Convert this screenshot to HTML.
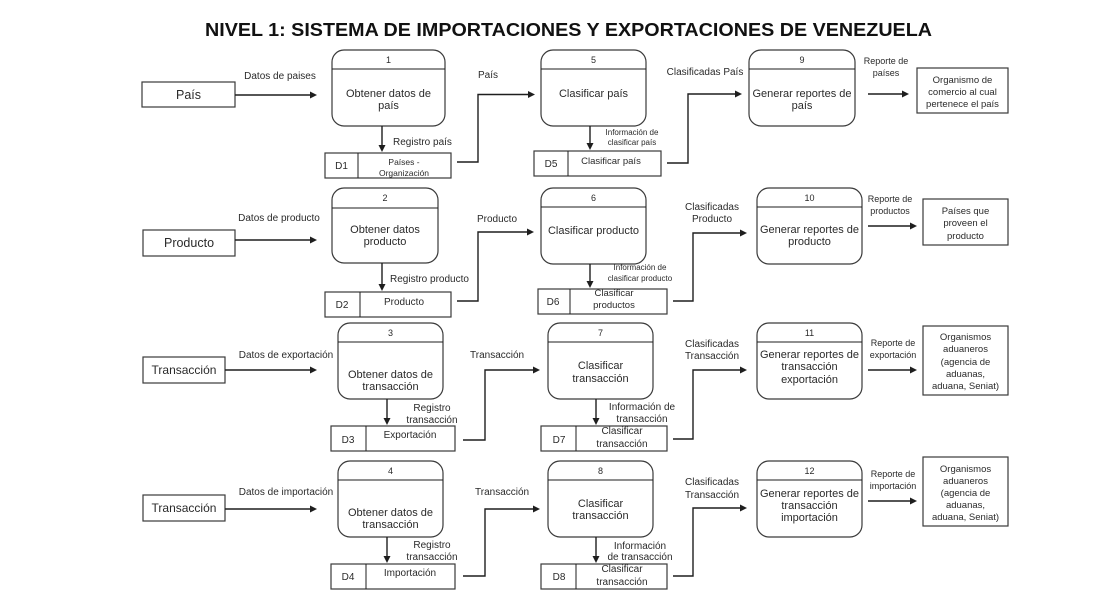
<!DOCTYPE html>
<html><head><meta charset="utf-8"><style>
html,body{margin:0;padding:0;background:#fff;}
svg{display:block;}
text{font-family:"Liberation Sans",Arial,sans-serif;fill:#2a2a2a;}
.t{text-anchor:middle;}
.box{fill:#fff;stroke:#3a3a3a;stroke-width:1.2;}
.ln{fill:none;stroke:#1e1e1e;stroke-width:1.4;}
.ah{fill:#1e1e1e;}
</style></head><body>
<svg width="1115" height="605" viewBox="0 0 1115 605" xmlns="http://www.w3.org/2000/svg">
<text x="205" y="36" font-size="18" font-weight="bold" textLength="727" lengthAdjust="spacingAndGlyphs" style="fill:#111">NIVEL 1: SISTEMA DE IMPORTACIONES Y EXPORTACIONES DE VENEZUELA</text>

<!-- ROW 1 -->
<rect class="box" x="142" y="82" width="93" height="25"/>
<text class="t" x="188.5" y="99" font-size="12.5">País</text>
<line class="ln" x1="235" y1="95" x2="311" y2="95"/><polygon class="ah" points="317,95 310,91.5 310,98.5"/>
<text class="t" x="280" y="79" font-size="10">Datos de paises</text>

<rect class="box" x="332" y="50" width="113" height="76" rx="12"/>
<line class="ln" x1="332" y1="69" x2="445" y2="69" style="stroke-width:1"/>
<text class="t" x="388.5" y="63" font-size="9">1</text>
<text class="t" x="388.5" y="97" font-size="11">Obtener datos de</text>
<text class="t" x="388.5" y="109" font-size="11">país</text>
<line class="ln" x1="382" y1="126" x2="382" y2="146"/><polygon class="ah" points="382,152 378.5,145 385.5,145"/>
<text x="393" y="145" font-size="10">Registro país</text>

<rect class="box" x="325" y="153" width="126" height="25"/>
<line class="ln" x1="358" y1="153" x2="358" y2="178" style="stroke-width:1"/>
<text class="t" x="341.5" y="169" font-size="10">D1</text>
<text class="t" x="404" y="165" font-size="8.5">Países -</text>
<text class="t" x="404" y="176" font-size="8.5">Organización</text>
<polyline class="ln" points="457,162 478,162 478,94.5 528,94.5"/><polygon class="ah" points="535,94.5 528,91 528,98"/>
<text x="478" y="78" font-size="10">País</text>

<rect class="box" x="541" y="50" width="105" height="76" rx="12"/>
<line class="ln" x1="541" y1="69" x2="646" y2="69" style="stroke-width:1"/>
<text class="t" x="593.5" y="63" font-size="9">5</text>
<text class="t" x="593.5" y="97" font-size="11">Clasificar país</text>
<line class="ln" x1="590" y1="126" x2="590" y2="144"/><polygon class="ah" points="590,150 586.5,143 593.5,143"/>
<text class="t" x="632" y="135" font-size="8">Información de</text>
<text class="t" x="632" y="145" font-size="8">clasificar país</text>

<rect class="box" x="534" y="151" width="127" height="25"/>
<line class="ln" x1="568" y1="151" x2="568" y2="176" style="stroke-width:1"/>
<text class="t" x="551" y="167" font-size="10">D5</text>
<text class="t" x="611" y="164" font-size="9.5">Clasificar país</text>
<polyline class="ln" points="667,163 688,163 688,94 735,94"/><polygon class="ah" points="742,94 735,90.5 735,97.5"/>
<text class="t" x="705" y="75" font-size="10">Clasificadas País</text>

<rect class="box" x="749" y="50" width="106" height="76" rx="12"/>
<line class="ln" x1="749" y1="69" x2="855" y2="69" style="stroke-width:1"/>
<text class="t" x="802" y="63" font-size="9">9</text>
<text class="t" x="802" y="97" font-size="11">Generar reportes de</text>
<text class="t" x="802" y="109" font-size="11">país</text>
<line class="ln" x1="868" y1="94" x2="903" y2="94"/><polygon class="ah" points="909,94 902,90.5 902,97.5"/>
<text class="t" x="886" y="64" font-size="9">Reporte de</text>
<text class="t" x="886" y="76" font-size="9">países</text>

<rect class="box" x="917" y="68" width="91" height="45"/>
<text class="t" x="962.5" y="83" font-size="9.5">Organismo de</text>
<text class="t" x="962.5" y="95" font-size="9.5">comercio al cual</text>
<text class="t" x="962.5" y="107" font-size="9.5">pertenece el país</text>

<!-- ROW 2 -->
<rect class="box" x="143" y="230" width="92" height="26"/>
<text class="t" x="189" y="247" font-size="12.5">Producto</text>
<line class="ln" x1="235" y1="240" x2="311" y2="240"/><polygon class="ah" points="317,240 310,236.5 310,243.5"/>
<text class="t" x="279" y="221" font-size="10">Datos de producto</text>

<rect class="box" x="332" y="188" width="106" height="75" rx="12"/>
<line class="ln" x1="332" y1="208" x2="438" y2="208" style="stroke-width:1"/>
<text class="t" x="385" y="201" font-size="9">2</text>
<text class="t" x="385" y="233" font-size="11">Obtener datos</text>
<text class="t" x="385" y="245" font-size="11">producto</text>
<line class="ln" x1="382" y1="263" x2="382" y2="285"/><polygon class="ah" points="382,291 378.5,284 385.5,284"/>
<text x="390" y="282" font-size="10">Registro producto</text>

<rect class="box" x="325" y="292" width="126" height="25"/>
<line class="ln" x1="360" y1="292" x2="360" y2="317" style="stroke-width:1"/>
<text class="t" x="342" y="308" font-size="10">D2</text>
<text class="t" x="404" y="305" font-size="10">Producto</text>
<polyline class="ln" points="457,301 478,301 478,232 527,232"/><polygon class="ah" points="534,232 527,228.5 527,235.5"/>
<text x="477" y="222" font-size="10">Producto</text>

<rect class="box" x="541" y="188" width="105" height="76" rx="12"/>
<line class="ln" x1="541" y1="207" x2="646" y2="207" style="stroke-width:1"/>
<text class="t" x="593.5" y="201" font-size="9">6</text>
<text class="t" x="593.5" y="234" font-size="11">Clasificar producto</text>
<line class="ln" x1="590" y1="264" x2="590" y2="282"/><polygon class="ah" points="590,288 586.5,281 593.5,281"/>
<text class="t" x="640" y="270" font-size="8">Información de</text>
<text class="t" x="640" y="281" font-size="8">clasificar producto</text>

<rect class="box" x="538" y="289" width="129" height="25"/>
<line class="ln" x1="570" y1="289" x2="570" y2="314" style="stroke-width:1"/>
<text class="t" x="553" y="305" font-size="10">D6</text>
<text class="t" x="614" y="296" font-size="9.5">Clasificar</text>
<text class="t" x="614" y="308" font-size="9.5">productos</text>
<polyline class="ln" points="673,301 693,301 693,233 740,233"/><polygon class="ah" points="747,233 740,229.5 740,236.5"/>
<text class="t" x="712" y="210" font-size="10">Clasificadas</text>
<text class="t" x="712" y="222" font-size="10">Producto</text>

<rect class="box" x="757" y="188" width="105" height="76" rx="12"/>
<line class="ln" x1="757" y1="207" x2="862" y2="207" style="stroke-width:1"/>
<text class="t" x="809.5" y="201" font-size="9">10</text>
<text class="t" x="809.5" y="233" font-size="11">Generar reportes de</text>
<text class="t" x="809.5" y="245" font-size="11">producto</text>
<line class="ln" x1="868" y1="226" x2="911" y2="226"/><polygon class="ah" points="917,226 910,222.5 910,229.5"/>
<text class="t" x="890" y="202" font-size="9">Reporte de</text>
<text class="t" x="890" y="214" font-size="9">productos</text>

<rect class="box" x="923" y="199" width="85" height="46"/>
<text class="t" x="965.5" y="214" font-size="9.5">Países que</text>
<text class="t" x="965.5" y="226" font-size="9.5">proveen el</text>
<text class="t" x="965.5" y="239" font-size="9.5">producto</text>

<!-- ROW 3 -->
<rect class="box" x="143" y="357" width="82" height="26"/>
<text class="t" x="184" y="374" font-size="12">Transacción</text>
<line class="ln" x1="225" y1="370" x2="311" y2="370"/><polygon class="ah" points="317,370 310,366.5 310,373.5"/>
<text class="t" x="286" y="358" font-size="10">Datos de exportación</text>

<rect class="box" x="338" y="323" width="105" height="76" rx="12"/>
<line class="ln" x1="338" y1="342" x2="443" y2="342" style="stroke-width:1"/>
<text class="t" x="390.5" y="336" font-size="9">3</text>
<text class="t" x="390.5" y="378" font-size="11">Obtener datos de</text>
<text class="t" x="390.5" y="390" font-size="11">transacción</text>
<line class="ln" x1="387" y1="399" x2="387" y2="419"/><polygon class="ah" points="387,425 383.5,418 390.5,418"/>
<text class="t" x="432" y="411" font-size="10">Registro</text>
<text class="t" x="432" y="423" font-size="10">transacción</text>

<rect class="box" x="331" y="426" width="124" height="25"/>
<line class="ln" x1="366" y1="426" x2="366" y2="451" style="stroke-width:1"/>
<text class="t" x="348" y="443" font-size="10">D3</text>
<text class="t" x="410" y="438" font-size="10">Exportación</text>
<polyline class="ln" points="463,440 485,440 485,370 533,370"/><polygon class="ah" points="540,370 533,366.5 533,373.5"/>
<text x="470" y="358" font-size="10">Transacción</text>

<rect class="box" x="548" y="323" width="105" height="76" rx="12"/>
<line class="ln" x1="548" y1="342" x2="653" y2="342" style="stroke-width:1"/>
<text class="t" x="600.5" y="336" font-size="9">7</text>
<text class="t" x="600.5" y="369" font-size="11">Clasificar</text>
<text class="t" x="600.5" y="382" font-size="11">transacción</text>
<line class="ln" x1="596" y1="399" x2="596" y2="419"/><polygon class="ah" points="596,425 592.5,418 599.5,418"/>
<text class="t" x="642" y="410" font-size="10">Información de</text>
<text class="t" x="642" y="422" font-size="10">transacción</text>

<rect class="box" x="541" y="426" width="126" height="25"/>
<line class="ln" x1="576" y1="426" x2="576" y2="451" style="stroke-width:1"/>
<text class="t" x="559" y="443" font-size="10">D7</text>
<text class="t" x="622" y="434" font-size="10">Clasificar</text>
<text class="t" x="622" y="447" font-size="10">transacción</text>
<polyline class="ln" points="673,439 693,439 693,370 740,370"/><polygon class="ah" points="747,370 740,366.5 740,373.5"/>
<text class="t" x="712" y="347" font-size="10">Clasificadas</text>
<text class="t" x="712" y="359" font-size="10">Transacción</text>

<rect class="box" x="757" y="323" width="105" height="76" rx="12"/>
<line class="ln" x1="757" y1="342" x2="862" y2="342" style="stroke-width:1"/>
<text class="t" x="809.5" y="336" font-size="9">11</text>
<text class="t" x="809.5" y="358" font-size="11">Generar reportes de</text>
<text class="t" x="809.5" y="370" font-size="11">transacción</text>
<text class="t" x="809.5" y="383" font-size="11">exportación</text>
<line class="ln" x1="868" y1="370" x2="911" y2="370"/><polygon class="ah" points="917,370 910,366.5 910,373.5"/>
<text class="t" x="893" y="346" font-size="9">Reporte de</text>
<text class="t" x="893" y="358" font-size="9">exportación</text>

<rect class="box" x="923" y="326" width="85" height="69"/>
<text class="t" x="965.5" y="340" font-size="9.5">Organismos</text>
<text class="t" x="965.5" y="352" font-size="9.5">aduaneros</text>
<text class="t" x="965.5" y="365" font-size="9.5">(agencia de</text>
<text class="t" x="965.5" y="377" font-size="9.5">aduanas,</text>
<text class="t" x="965.5" y="389" font-size="9.5">aduana, Seniat)</text>

<!-- ROW 4 -->
<rect class="box" x="143" y="495" width="82" height="26"/>
<text class="t" x="184" y="512" font-size="12">Transacción</text>
<line class="ln" x1="225" y1="509" x2="311" y2="509"/><polygon class="ah" points="317,509 310,505.5 310,512.5"/>
<text class="t" x="286" y="495" font-size="10">Datos de importación</text>

<rect class="box" x="338" y="461" width="105" height="76" rx="12"/>
<line class="ln" x1="338" y1="480" x2="443" y2="480" style="stroke-width:1"/>
<text class="t" x="390.5" y="474" font-size="9">4</text>
<text class="t" x="390.5" y="516" font-size="11">Obtener datos de</text>
<text class="t" x="390.5" y="528" font-size="11">transacción</text>
<line class="ln" x1="387" y1="537" x2="387" y2="557"/><polygon class="ah" points="387,563 383.5,556 390.5,556"/>
<text class="t" x="432" y="548" font-size="10">Registro</text>
<text class="t" x="432" y="560" font-size="10">transacción</text>

<rect class="box" x="331" y="564" width="124" height="25"/>
<line class="ln" x1="366" y1="564" x2="366" y2="589" style="stroke-width:1"/>
<text class="t" x="348" y="580" font-size="10">D4</text>
<text class="t" x="410" y="576" font-size="10">Importación</text>
<polyline class="ln" points="463,576 485,576 485,509 533,509"/><polygon class="ah" points="540,509 533,505.5 533,512.5"/>
<text x="475" y="495" font-size="10">Transacción</text>

<rect class="box" x="548" y="461" width="105" height="76" rx="12"/>
<line class="ln" x1="548" y1="480" x2="653" y2="480" style="stroke-width:1"/>
<text class="t" x="600.5" y="474" font-size="9">8</text>
<text class="t" x="600.5" y="507" font-size="11">Clasificar</text>
<text class="t" x="600.5" y="519" font-size="11">transacción</text>
<line class="ln" x1="596" y1="537" x2="596" y2="557"/><polygon class="ah" points="596,563 592.5,556 599.5,556"/>
<text class="t" x="640" y="549" font-size="10">Información</text>
<text class="t" x="640" y="560" font-size="10">de transacción</text>

<rect class="box" x="541" y="564" width="126" height="25"/>
<line class="ln" x1="576" y1="564" x2="576" y2="589" style="stroke-width:1"/>
<text class="t" x="559" y="580" font-size="10">D8</text>
<text class="t" x="622" y="572" font-size="10">Clasificar</text>
<text class="t" x="622" y="585" font-size="10">transacción</text>
<polyline class="ln" points="673,576 693,576 693,508 740,508"/><polygon class="ah" points="747,508 740,504.5 740,511.5"/>
<text class="t" x="712" y="485" font-size="10">Clasificadas</text>
<text class="t" x="712" y="498" font-size="10">Transacción</text>

<rect class="box" x="757" y="461" width="105" height="76" rx="12"/>
<line class="ln" x1="757" y1="480" x2="862" y2="480" style="stroke-width:1"/>
<text class="t" x="809.5" y="474" font-size="9">12</text>
<text class="t" x="809.5" y="497" font-size="11">Generar reportes de</text>
<text class="t" x="809.5" y="509" font-size="11">transacción</text>
<text class="t" x="809.5" y="521" font-size="11">importación</text>
<line class="ln" x1="868" y1="501" x2="911" y2="501"/><polygon class="ah" points="917,501 910,497.5 910,504.5"/>
<text class="t" x="893" y="477" font-size="9">Reporte de</text>
<text class="t" x="893" y="489" font-size="9">importación</text>

<rect class="box" x="923" y="457" width="85" height="69"/>
<text class="t" x="965.5" y="472" font-size="9.5">Organismos</text>
<text class="t" x="965.5" y="484" font-size="9.5">aduaneros</text>
<text class="t" x="965.5" y="496" font-size="9.5">(agencia de</text>
<text class="t" x="965.5" y="508" font-size="9.5">aduanas,</text>
<text class="t" x="965.5" y="520" font-size="9.5">aduana, Seniat)</text>
</svg>
</body></html>
